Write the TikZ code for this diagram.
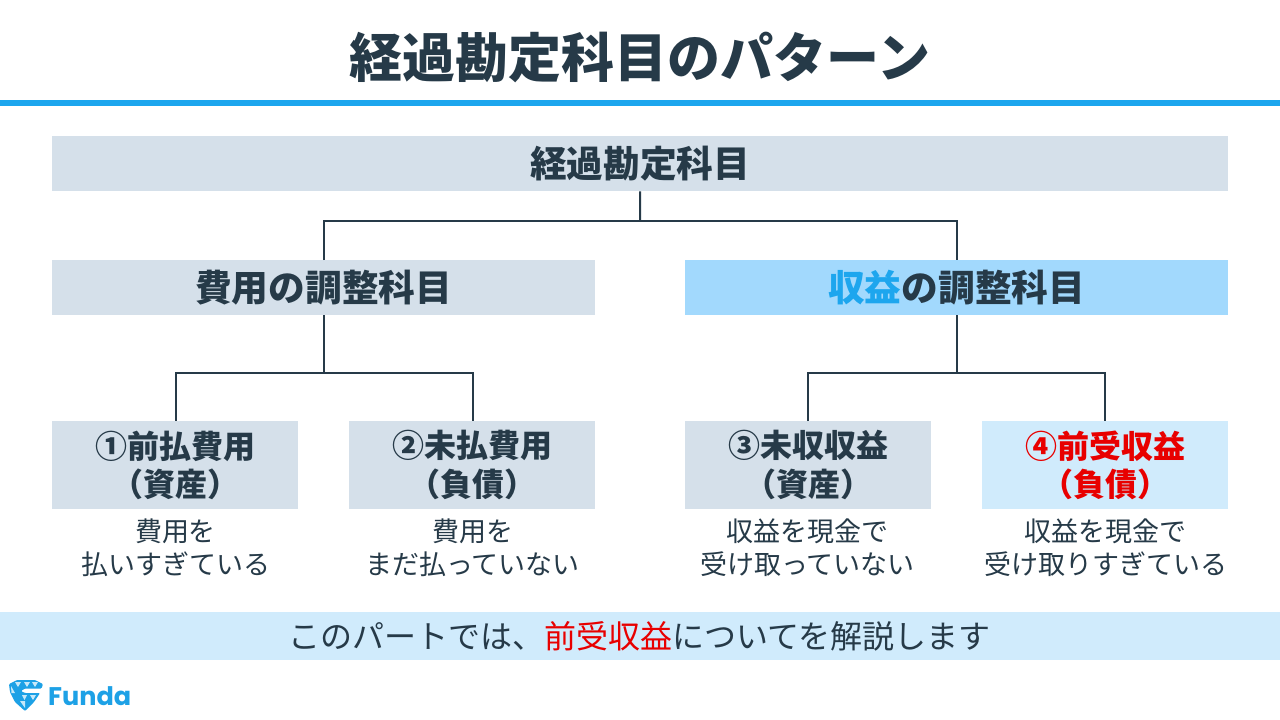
\documentclass[tikz,border=0pt]{standalone}
\usepackage{fontspec}
\setmainfont{Noto Sans CJK JP}
\newfontfamily\logofont{Poppins}
\definecolor{ink}{HTML}{263A48}
\definecolor{boxgray}{HTML}{D5E0EA}
\definecolor{boxblue}{HTML}{A2D9FD}
\definecolor{boxpale}{HTML}{D0EBFC}
\definecolor{accent}{HTML}{1DA6EE}
\definecolor{redtext}{HTML}{E80000}
\definecolor{logoblue}{HTML}{1DA1E6}
\tikzset{
 x=1pt,y=-1pt,
 titletext/.style={font=\fontsize{53}{60}\selectfont\bfseries,text=ink,inner sep=0pt},
 bigbox/.style={anchor=north west,inner sep=0pt,font=\fontsize{36.7}{40}\selectfont\bfseries,text=ink,align=center},
 smallbox/.style={anchor=north west,inner sep=0pt,minimum width=246pt,minimum height=88pt,font=\fontsize{32}{38.5}\selectfont\bfseries,text=ink,align=center},
 desc/.style={inner sep=0pt,font=\fontsize{27}{33}\selectfont,text=ink,align=center},
 link/.style={draw=ink,line width=2pt},
}
\begin{document}
\begin{tikzpicture}
\useasboundingbox (0,0) rectangle (1280,720);
\fill[white] (0,0) rectangle (1280,720);
\node[titletext] (title) at (640,58) {経過勘定科目のパターン};
\fill[accent] (0,100) rectangle (1280,106);
\node[bigbox,fill=boxgray,minimum width=1176pt,minimum height=55pt] (root) at (52,136) {経過勘定科目};
\node[bigbox,fill=boxgray,minimum width=543pt,minimum height=55pt] (cost) at (52,260) {費用の調整科目};
\node[bigbox,fill=boxblue,minimum width=543pt,minimum height=55pt] (rev) at (685,260) {\textcolor{accent}{収益}の調整科目};
\coordinate (j1) at (640,221);
\coordinate (j2) at (cost.south |- 0,372.5);
\coordinate (j3) at (rev.south |- 0,372.5);
\coordinate (ja) at (176,421);
\coordinate (jb) at (473,421);
\draw[link] (root.south) -- (j1);
\draw[link] (cost.north) |- (j1) -| (rev.north);
\draw[link] (cost.south) -- (j2);
\draw[link] (ja) |- (j2) -| (jb);
\draw[link] (rev.south) -- (j3);
\node[smallbox,fill=boxgray] (a) at (52,421) {①前払費用\\（資産）};
\node[smallbox,fill=boxgray] (b) at (349,421) {②未払費用\\（負債）};
\node[smallbox,fill=boxgray] (c) at (685,421) {③未収収益\\（資産）};
\node[smallbox,fill=boxpale,text=redtext] (d) at (982,421) {④前受収益\\（負債）};
\draw[link] (c.north) |- (j3) -| (d.north);
\node[desc] (da) at (175.5,548) {費用を\\払いすぎている};
\node[desc] (db) at (472.5,548) {費用を\\まだ払っていない};
\node[desc] (dc) at (807.5,548) {収益を現金で\\受け取っていない};
\node[desc] (dd) at (1105.5,548) {収益を現金で\\受け取りすぎている};
\node[anchor=north west,fill=boxpale,minimum width=1280pt,minimum height=48pt,inner sep=0pt,font=\fontsize{32}{38}\selectfont,text=ink] (note) at (0,612) {\hspace{-1pt}このパートでは、\textcolor{redtext}{前受収益}についてを解説します};
% logo
\fill[logoblue,rounded corners=1pt] (9,684) -- (17,680) -- (35,680) -- (43,684) -- (41.5,688.5) -- (25,688.5) -- (21,691) -- (25,693) -- (40,693) -- (34,702) -- (25,711) -- (15,702) -- (10,692) -- cycle;
\fill[white!75!logoblue] (15,682) -- (21,682) -- (18,687) -- cycle (24,682) -- (30,682) -- (27,687) -- cycle (32,682) -- (38,682) -- (35,687) -- cycle;
\fill[white!75!logoblue] (11,686) -- (15,693) -- (11.5,693) -- cycle (22,695) -- (27,695) -- (24.5,700) -- cycle (30,695) -- (36,695) -- (33,700) -- cycle (20,701) -- (25,701) -- (25,708) -- cycle;
\node[anchor=west,inner sep=0pt,font=\logofont\fontsize{25.5}{28}\selectfont\bfseries,text=logoblue] (logo) at (48,696.5) {Funda};
\end{tikzpicture}
\end{document}
